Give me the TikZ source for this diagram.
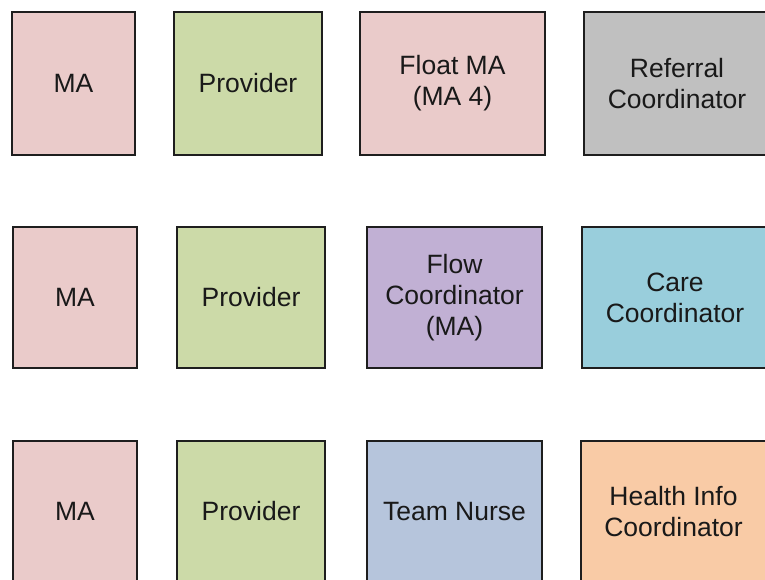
\documentclass[tikz,border=0pt]{standalone}
\usepackage{fontspec}
\setmainfont{Liberation Sans}
\definecolor{mapink}{RGB}{234,203,202}
\definecolor{provgreen}{RGB}{204,218,168}
\definecolor{refgray}{RGB}{192,192,192}
\definecolor{flowpurple}{RGB}{193,176,212}
\definecolor{careblue}{RGB}{153,206,220}
\definecolor{nurseblue}{RGB}{182,197,220}
\definecolor{healthorange}{RGB}{249,203,166}
\definecolor{edge}{RGB}{30,30,30}
\tikzset{
  rolebox/.style={draw=edge, line width=1.6pt, rectangle, inner sep=0pt, outer sep=0pt,
    align=center, font=\fontsize{26.5}{31}\selectfont, text=black!90}
}
\newcommand{\rolenode}[7]{%
  \node[rolebox, fill=#6, minimum width={(#4-#2)*1pt}, minimum height={(#5-#3)*1pt}]
    (#1) at ({(#2+#4)/2*1pt},{-(#3+#5)/2*1pt}) {#7};}
\begin{document}
\begin{tikzpicture}[x=1pt,y=1pt]
\useasboundingbox (0,0) rectangle (765,-579);
\fill[white] (0,0) rectangle (765,-579);
% row 1
\rolenode{ma1}{12}{12}{135}{155}{mapink}{MA}
\rolenode{prov1}{174}{12}{322}{155}{provgreen}{Provider}
\rolenode{float}{360}{12}{545}{155}{mapink}{Float MA\\(MA 4)}
\rolenode{ref}{584}{12}{770}{155}{refgray}{Referral\\Coordinator}
% row 2
\rolenode{ma2}{13}{227}{137}{368}{mapink}{MA}
\rolenode{prov2}{177}{227}{325}{368}{provgreen}{Provider}
\rolenode{flow}{367}{227}{542}{368}{flowpurple}{Flow\\Coordinator\\(MA)}
\rolenode{care}{582}{227}{768}{368}{careblue}{Care\\Coordinator}
% row 3
\rolenode{ma3}{13}{441}{137}{582}{mapink}{MA}
\rolenode{prov3}{177}{441}{325}{582}{provgreen}{Provider}
\rolenode{nurse}{367}{441}{542}{582}{nurseblue}{Team Nurse}
\rolenode{health}{581}{441}{766}{582}{healthorange}{Health Info\\Coordinator}
\end{tikzpicture}
\end{document}
